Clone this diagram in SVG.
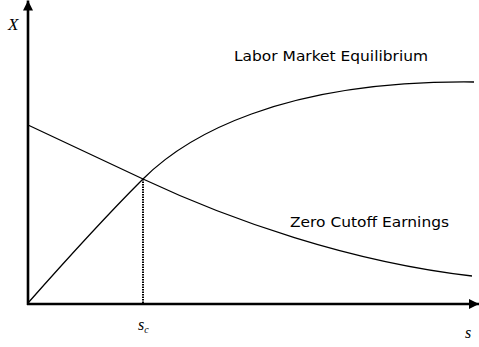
<svg xmlns="http://www.w3.org/2000/svg" width="479" height="347" viewBox="0 0 479 347">
<style>
.axis{stroke:#000;stroke-width:2.6;fill:none}
.curve{stroke:#000;stroke-width:1.3;fill:none}
.lbl{font-family:"DejaVu Sans",Verdana,sans-serif;font-size:14px;fill:#000}
.var{font-family:"Liberation Serif","Times New Roman",serif;font-style:italic;fill:#000}
</style>
<defs>
<marker id="ah" markerWidth="10" markerHeight="10" refX="10" refY="5" orient="auto" markerUnits="userSpaceOnUse">
<path d="M0,0 L10,5 L0,10 Z" fill="#000"/>
</marker>
</defs>
<rect width="479" height="347" fill="#fff"/>
<g id="axes">
<line class="axis" x1="28" y1="305" x2="28" y2="0.5" marker-end="url(#ah)"/>
<line class="axis" x1="27" y1="304" x2="479" y2="304" marker-end="url(#ah)"/>
</g>
<g id="connectors">
<path id="labor-market" class="curve" d="M28,303 C66,260 110,212 143,179 C185,137 280,80 474,82"/>
<path id="zero-cutoff" class="curve" d="M28,125 L143,179 C230,220 350,262 472,276"/>
<line id="sc-drop" x1="143" y1="179" x2="143" y2="303" stroke="#000" stroke-width="2" stroke-dasharray="1.5,1"/>
</g>
<g id="labels">
<text class="var" x="8" y="30" font-size="17">X</text>
<text class="var" x="138" y="330" font-size="16">s<tspan font-size="10" dy="3">c</tspan></text>
<text class="var" x="465" y="338" font-size="16">s</text>
<text class="lbl" x="234" y="61" textLength="194" lengthAdjust="spacingAndGlyphs">Labor Market Equilibrium</text>
<text class="lbl" x="290" y="227" textLength="159" lengthAdjust="spacingAndGlyphs">Zero Cutoff Earnings</text>
</g>
</svg>
